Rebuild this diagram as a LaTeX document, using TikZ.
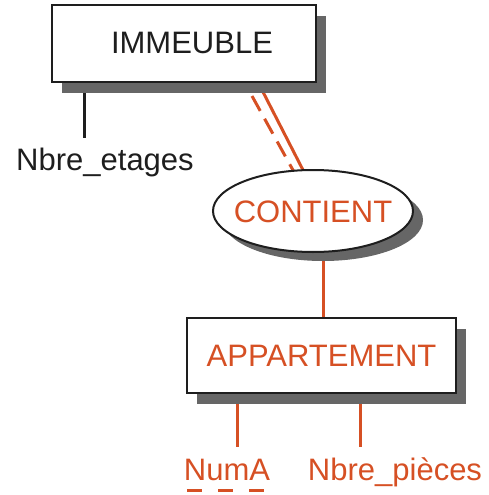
\documentclass[tikz,border=0pt]{standalone}
\usepackage{fontspec}
\setmainfont{Liberation Sans}
\usetikzlibrary{shapes.geometric,shadows,backgrounds}
\definecolor{er}{RGB}{214,80,36}
\definecolor{shd}{RGB}{102,102,102}
\definecolor{ink}{RGB}{30,30,30}
\begin{document}
\begin{tikzpicture}[x=1pt,y=-1pt,
  entity/.style={draw=ink, line width=2.5pt, fill=white, rectangle, inner sep=0pt,
    font=\fontsize{31}{31}\selectfont,
    drop shadow={shadow xshift=10pt, shadow yshift=-11pt, fill=shd, opacity=1}},
  relation/.style={ellipse, draw=ink, line width=2pt, fill=white, inner sep=0pt,
    drop shadow={shadow xshift=10pt, shadow yshift=-9pt, fill=shd, opacity=1}},
  lbl/.style={font=\fontsize{31}{31}\selectfont, inner sep=0pt, anchor=base},
  blackline/.style={draw=ink, line width=3pt},
  redline/.style={draw=er, line width=3pt}
]
\useasboundingbox (0,0) rectangle (488,495);

% entities and relation
\node[entity, minimum width=264pt, minimum height=77pt] (imm) at (184,43.5) {};
\node[lbl, text=ink] (immT) at (192,54) {IMMEUBLE};
\node[relation, minimum width=200pt, minimum height=82pt] (cont) at (313,211) {};
\node[lbl, text=er] (contT) at (313,222) {CONTIENT};
\node[entity, text=er, minimum width=269pt, minimum height=75pt] (app) at (321.5,355.5) {APPARTEMENT};

% attributes
\node[lbl, text=ink] (etg) at (105,170) {Nbre\_etages};
\node[lbl, text=er] (numa) at (227,480) {NumA};
\node[lbl, text=er] (npc) at (395,480) {Nbre\_pièces};

% connector end points
\coordinate (e1) at (84,90);
\coordinate (e2) at (84,138);
\coordinate (s1) at (262,90);
\coordinate (s2) at (304,172);
\coordinate (d1) at (252,96);
\coordinate (d2) at (294,172);
\coordinate (v1) at (323,245);
\coordinate (v2) at (323,320);
\coordinate (n1) at (237,400);
\coordinate (n2) at (237,447);
\coordinate (p1) at (360,400);
\coordinate (p2) at (360,447);
\coordinate (u1) at (187,490);
\coordinate (u2) at (268,490);

\begin{pgfonlayer}{background}
\draw[blackline] (e1) -- (e2);
\draw[redline] (s1) -- (s2);
\draw[redline, dash pattern=on 17pt off 9pt] (d1) -- (d2);
\draw[redline] (v1) -- (v2);
\draw[redline] (n1) -- (n2);
\draw[redline] (p1) -- (p2);
\end{pgfonlayer}
\draw[redline, dash pattern=on 15pt off 16pt] (u1) -- (u2);
\end{tikzpicture}
\end{document}
